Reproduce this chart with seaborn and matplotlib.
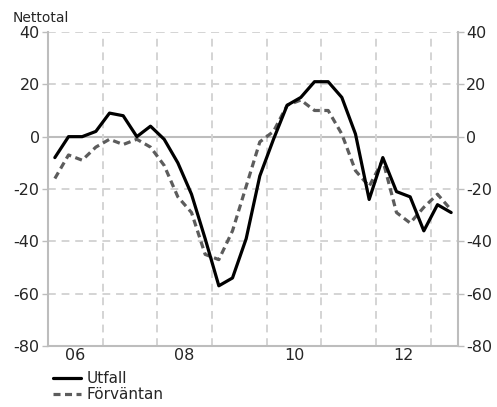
import numpy as np
import pandas as pd
import matplotlib
matplotlib.use('Agg')
import matplotlib.pyplot as plt
import matplotlib.transforms as mtransforms
import seaborn as sns

# Quarterly data, 2006 Q1 - 2013 Q2
years = [2006, 2007, 2008, 2009, 2010, 2011, 2012, 2013]
quarters = [f'{y}Q{q}' for y in years for q in range(1, 5)][:30]

utfall = [-8, 0, 0, 2, 9, 8, 0, 4, -1, -10, -22, -39, -57, -54, -39, -15,
          -1, 12, 15, 21, 21, 15, 1, -24, -8, -21, -23, -36, -26, -29]
forvantan = [-16, -7, -9, -4, -1, -3, -1, -4, -11, -23, -29, -45, -47, -36, -19, -2,
             2, 12, 14, 10, 10, 1, -13, -19, -9, -29, -33, -27, -22, -28]

year_labels = ['06', '08', '10', '12']
label_years = [2006, 2008, 2010, 2012]
y_ticks = [-80, -60, -40, -20, 0, 20, 40]

# decimal time at mid-quarter
t = [int(q[:4]) + (int(q[-1]) - 0.5) / 4 for q in quarters]
df = pd.DataFrame({'t': t, 'Utfall': utfall, 'Förväntan': forvantan})

sns.set_style('white')
plt.rcParams['font.family'] = ['DejaVu Sans']
plt.rcParams['axes.unicode_minus'] = False

fig = plt.figure(figsize=(4.97, 4.07), dpi=100)
ax = fig.add_axes([0.0966, 0.1499, 0.8249, 0.7715])

grid_col = '#d4d4d4'
# horizontal grid
for v in y_ticks:
    if v == 0:
        ax.axhline(v, color='#bdbdbd', lw=1.5, zorder=1)
    elif v != -80:
        ax.axhline(v, color=grid_col, lw=1.4, ls=(0, (4, 3)), zorder=1)
# vertical grid at year boundaries
for y in years[1:]:
    ax.axvline(y, color=grid_col, lw=1.4, ls=(0, (4, 3)), zorder=1)

sns.lineplot(data=df, x='t', y='Förväntan', ax=ax, color='#5c5c5c', lw=2.3,
             linestyle=(0, (2.2, 1.4)), label='Förväntan', zorder=3)
sns.lineplot(data=df, x='t', y='Utfall', ax=ax, color='black', lw=2.3,
             label='Utfall', zorder=4)

ax.set_xlim(2006, 2013.5)
ax.set_ylim(-80, 40)
ax.set_xlabel('')
ax.set_ylabel('')

# quarterly ticks, inward, no labels
ax.set_xticks(np.arange(2006, 2013.51, 0.25))
ax.set_xticklabels([])
ax.tick_params(axis='x', direction='in', length=3, color='#bdbdbd', width=1)
trans = mtransforms.blended_transform_factory(ax.transData, ax.transAxes)
for yr, lab in zip(label_years, year_labels):
    ax.text(yr + 0.5, -0.005, lab, transform=trans, ha='center', va='top', fontsize=11.5)

ax.set_yticks(y_ticks)
ax.tick_params(axis='y', direction='out', length=4, color='#bdbdbd', width=1,
               labelsize=11.5, left=True, right=True, labelleft=True, labelright=True, pad=2)

for s in ['left', 'right', 'bottom']:
    ax.spines[s].set_color('#bdbdbd')
    ax.spines[s].set_linewidth(1.5)
ax.spines['top'].set_visible(False)

fig.text(0.026, 0.955, 'Nettotal', fontsize=10, ha='left', va='center')

handles, labels = ax.get_legend_handles_labels()
ax.get_legend().remove()
order = [labels.index('Utfall'), labels.index('Förväntan')]
fig.legend([handles[i] for i in order], [labels[i] for i in order],
           loc='upper left', bbox_to_anchor=(0.107, 0.088), frameon=False,
           fontsize=11, handlelength=1.8, handletextpad=0.4, labelspacing=0.05,
           borderpad=0, borderaxespad=0)

fig.savefig('out.png', dpi=100)
